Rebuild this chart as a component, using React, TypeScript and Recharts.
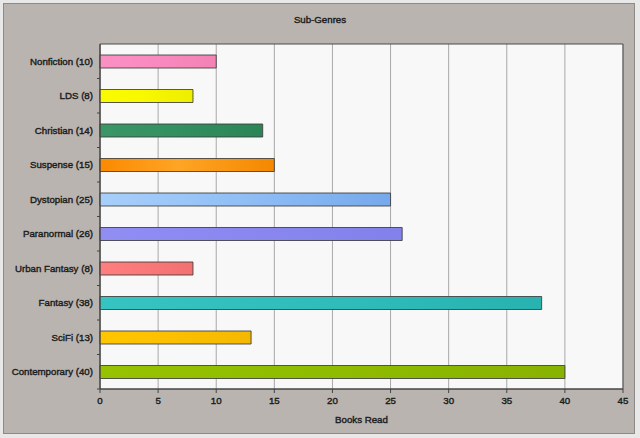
import { Bar, BarChart, CartesianGrid, Cell, ReferenceArea, XAxis, YAxis } from "recharts"

const genres = [
  "Nonfiction (10)",
  "LDS (8)",
  "Christian (14)",
  "Suspense (15)",
  "Dystopian (25)",
  "Paranormal (26)",
  "Urban Fantasy (8)",
  "Fantasy (38)",
  "SciFi (13)",
  "Contemporary (40)",
]

const booksRead = [10, 8, 14, 15, 25, 26, 8, 38, 13, 40]

// left / middle / right colour of each bar's gradient
const barShades = [
  ["#fb90c2", "#f98ac0", "#f482b4"],
  ["#fafa00", "#f8f800", "#eeee00"],
  ["#3b9666", "#339060", "#2c8455"],
  ["#fb8a00", "#ffa424", "#f48800"],
  ["#a8cffb", "#92c0f6", "#76a9ec"],
  ["#908ef3", "#8a88f0", "#8280ea"],
  ["#ff7e7e", "#fa7878", "#f27070"],
  ["#36c4c2", "#30bebc", "#28b2b0"],
  ["#ffc600", "#fcc000", "#f4b800"],
  ["#96c200", "#90bc00", "#88b200"],
]

const xTicks = [0, 5, 10, 15, 20, 25, 30, 35, 40, 45]

const data = genres.map((name, i) => ({ name, books: booksRead[i] }))

const W = 640
const H = 438
const margin = { top: 44, right: 17, bottom: 15, left: 0 }
const xAxisHeight = 34
const yAxisWidth = 100
const halfBand = (H - margin.top - margin.bottom - xAxisHeight) / genres.length / 2

const FONT = "'Liberation Sans', Arial, sans-serif"
const labelFont = { fontFamily: FONT, fontSize: 9.7, fill: "#1c1c1c", stroke: "#1c1c1c", strokeWidth: 0.4 }

// category label, plus the small tick under it that marks the band edge
function GenreTick({ x, y, payload }: any) {
  return (
    <g>
      <text x={x} y={y} textAnchor="end" dominantBaseline="central" {...labelFont}>
        {payload.value}
      </text>
      <line x1={yAxisWidth - 3} x2={yAxisWidth} y1={y + halfBand} y2={y + halfBand} stroke="#444" />
    </g>
  )
}

export default function App() {
  return (
    <div style={{ position: "absolute", left: 0, top: 0, width: W, height: H, background: "#e8e8e8", overflow: "hidden" }}>
      <div
        style={{
          position: "absolute",
          left: 3,
          top: 3,
          width: 630,
          height: 429,
          background: "#b9b4af",
          border: "1px solid #8e8a86",
        }}
      />
      <svg width={0} height={0} style={{ position: "absolute" }}>
        <defs>
          {barShades.map((s, i) => (
            <linearGradient key={i} id={`shade${i}`} x1="0" y1="0" x2="1" y2="0">
              <stop offset="0%" stopColor={s[0]} />
              <stop offset="45%" stopColor={s[1]} />
              <stop offset="100%" stopColor={s[2]} />
            </linearGradient>
          ))}
        </defs>
      </svg>
      <div
        style={{
          position: "absolute",
          left: 0,
          top: 14,
          width: W,
          textAlign: "center",
          fontFamily: FONT,
          fontSize: 9.7,
          color: "#1c1c1c",
          WebkitTextStroke: "0.4px #1c1c1c",
        }}
      >
        Sub-Genres
      </div>
      <div style={{ position: "absolute", left: 0, top: 0 }}>
        <BarChart width={W} height={H} layout="vertical" data={data} margin={margin}>
          <CartesianGrid horizontal={false} stroke="#a8a8a8" fill="#f8f8f8" />
          <YAxis
            dataKey="name"
            type="category"
            width={yAxisWidth}
            tickLine={false}
            tickSize={5}
            tickMargin={2}
            axisLine={{ stroke: "#444" }}
            tick={<GenreTick />}
            interval={0}
          />
          <XAxis
            type="number"
            domain={[0, 45]}
            ticks={xTicks}
            tickSize={4}
            tickMargin={4}
            tickLine={{ stroke: "#444" }}
            axisLine={{ stroke: "#444" }}
            tick={labelFont}
            height={xAxisHeight}
            label={{ value: "Books Read", position: "insideBottom", offset: 0, ...labelFont }}
          />
          <Bar dataKey="books" barSize={13} isAnimationActive={false}>
            {data.map((_, i) => (
              <Cell key={i} fill={`url(#shade${i})`} stroke="#3c3c3c" strokeOpacity={0.85} strokeWidth={1} />
            ))}
          </Bar>
          <ReferenceArea x1={0} x2={45} fill="none" stroke="#4a4a4a" strokeWidth={1} ifOverflow="visible" />
        </BarChart>
      </div>
    </div>
  )
}
